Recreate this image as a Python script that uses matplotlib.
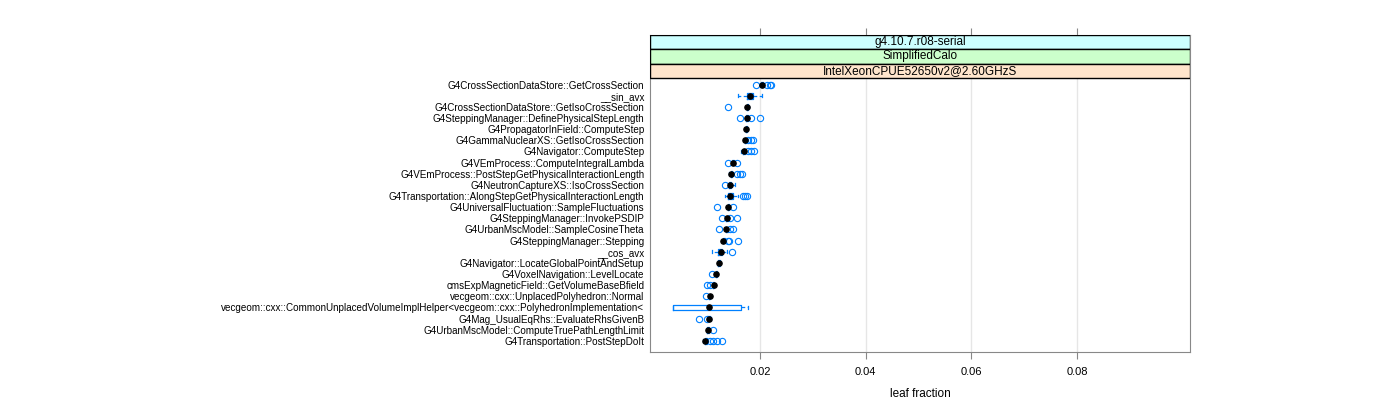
import numpy as np
import matplotlib.pyplot as plt
from matplotlib.patches import Rectangle
import matplotlib.transforms as mtrans

plt.rcParams['font.family'] = ['Liberation Sans', 'DejaVu Sans']

labels = [
    'G4CrossSectionDataStore::GetCrossSection',
    '__sin_avx',
    'G4CrossSectionDataStore::GetIsoCrossSection',
    'G4SteppingManager::DefinePhysicalStepLength',
    'G4PropagatorInField::ComputeStep',
    'G4GammaNuclearXS::GetIsoCrossSection',
    'G4Navigator::ComputeStep',
    'G4VEmProcess::ComputeIntegralLambda',
    'G4VEmProcess::PostStepGetPhysicalInteractionLength',
    'G4NeutronCaptureXS::IsoCrossSection',
    'G4Transportation::AlongStepGetPhysicalInteractionLength',
    'G4UniversalFluctuation::SampleFluctuations',
    'G4SteppingManager::InvokePSDIP',
    'G4UrbanMscModel::SampleCosineTheta',
    'G4SteppingManager::Stepping',
    '__cos_avx',
    'G4Navigator::LocateGlobalPointAndSetup',
    'G4VoxelNavigation::LevelLocate',
    'cmsExpMagneticField::GetVolumeBaseBfield',
    'vecgeom::cxx::UnplacedPolyhedron::Normal',
    'vecgeom::cxx::CommonUnplacedVolumeImplHelper<vecgeom::cxx::PolyhedronImplementation<',
    'G4Mag_UsualEqRhs::EvaluateRhsGivenB',
    'G4UrbanMscModel::ComputeTruePathLengthLimit',
    'G4Transportation::PostStepDoIt',
]

medians = [0.0204, 0.0181, 0.0176, 0.0175, 0.0174, 0.0172, 0.0170, 0.0149,
           0.0146, 0.0143, 0.0143, 0.0140, 0.0137, 0.0136, 0.0131, 0.0126,
           0.0122, 0.0117, 0.0113, 0.0105, 0.0104, 0.0103, 0.0101, 0.0097]
q1 = [0.0202, 0.0175, 0.0175, 0.0173, 0.0173, 0.0171, 0.0168, 0.0148,
      0.0145, 0.0142, 0.0139, 0.0139, 0.0136, 0.0135, 0.0130, 0.0121,
      0.0121, 0.0116, 0.0112, 0.0104, 0.0035, 0.0101, 0.0100, 0.0097]
q3 = [0.0206, 0.0187, 0.0178, 0.0177, 0.0175, 0.0174, 0.0172, 0.0151,
      0.0148, 0.0145, 0.0150, 0.0142, 0.0140, 0.0139, 0.0134, 0.0129,
      0.0124, 0.0118, 0.0114, 0.0106, 0.0165, 0.0106, 0.0103, 0.0100]
wlo = [0.0200, 0.0158, 0.0174, 0.0172, 0.0172, 0.0169, 0.0164, 0.0147,
       0.0141, 0.0141, 0.0134, 0.0138, 0.0135, 0.0134, 0.0129, 0.0109,
       0.0120, 0.0115, 0.0111, 0.0103, 0.0035, 0.0099, 0.0099, 0.0092]
whi = [0.0208, 0.0204, 0.0179, 0.0178, 0.0176, 0.0175, 0.0173, 0.0152,
       0.0149, 0.0153, 0.0158, 0.0143, 0.0141, 0.0140, 0.0135, 0.0137,
       0.0125, 0.0119, 0.0115, 0.0107, 0.0178, 0.0107, 0.0104, 0.0102]
outliers = [
    [0.0192, 0.0213, 0.0219, 0.0221],
    [],
    [0.0139],
    [0.0163, 0.0184, 0.0201],
    [],
    [0.0177, 0.0183, 0.0187],
    [0.0177, 0.0183, 0.0189],
    [0.0140, 0.0157],
    [0.0156, 0.0162, 0.0167],
    [0.0134],
    [0.0168, 0.0172, 0.0175],
    [0.0119, 0.0149],
    [0.0128, 0.0143, 0.0157],
    [0.0122, 0.0143, 0.0149],
    [0.0139, 0.0142, 0.0159],
    [0.0147],
    [],
    [0.0109],
    [0.0099, 0.0105],
    [0.0098],
    [],
    [0.0085, 0.0099],
    [0.0112],
    [0.0105, 0.0112, 0.0119, 0.0129],
]

strips = ['g4.10.7.r08-serial', 'SimplifiedCalo', 'IntelXeonCPUE52650v2@2.60GHzS']
strip_cols = ['#ccffff', '#ccffcc', '#ffe5cc']

blue = '#0080ff'
n = len(labels)
pos = np.arange(n, 0, -1)

stats = []
for i in range(n):
    stats.append(dict(med=medians[i], q1=q1[i], q3=q3[i],
                      whislo=wlo[i], whishi=whi[i], fliers=outliers[i]))

fig = plt.figure(figsize=(14, 4), dpi=100)
ax = fig.add_axes([650/1400, 1-352/400, 540/1400, 317/400])

top_panel = n + 0.6
strip_h = 14.3/11.13
ytop = top_panel + 3*strip_h

for t in [0.02, 0.04, 0.06, 0.08]:
    ax.plot([t, t], [0, top_panel], color='#e6e6e6', lw=1, zorder=0)

ax.bxp(stats, positions=pos, vert=False, widths=0.5, capwidths=0.25,
       showfliers=True,
       boxprops=dict(color=blue, lw=0.9),
       whiskerprops=dict(color=blue, lw=0.9, ls=(0, (3, 2))),
       capprops=dict(color=blue, lw=0.9),
       medianprops=dict(lw=0),
       flierprops=dict(marker='o', mfc='none', mec=blue, ms=4.5, mew=0.8))
ax.scatter(medians, pos, s=14, color='black', zorder=5)

trans = mtrans.blended_transform_factory(ax.transAxes, ax.transData)
for k in range(3):
    y0 = ytop - (k+1)*strip_h
    ax.add_patch(Rectangle((0, y0), 1, strip_h, transform=trans,
                           facecolor=strip_cols[k], edgecolor='black', lw=1, zorder=6))
    ax.text(0.5, y0 + strip_h/2, strips[k], transform=trans, ha='center',
            va='center', fontsize=8.5, zorder=7)

ax.set_xlim(-0.0008, 0.1014)
ax.set_ylim(0, ytop)
ax.set_yticks(pos)
ax.set_yticklabels(labels, fontsize=7.1)
ax.tick_params(axis='y', length=0, pad=4)
ax.set_xticks([0.02, 0.04, 0.06, 0.08])
ax.set_xticklabels(['0.02', '0.04', '0.06', '0.08'], fontsize=8)
ax.tick_params(axis='x', top=True, direction='out', length=5, color='#888888', pad=6)
for s in ax.spines.values():
    s.set_color('#888888')
ax.set_xlabel('leaf fraction', fontsize=8.5, labelpad=8)

fig.savefig('out.png', dpi=100)
